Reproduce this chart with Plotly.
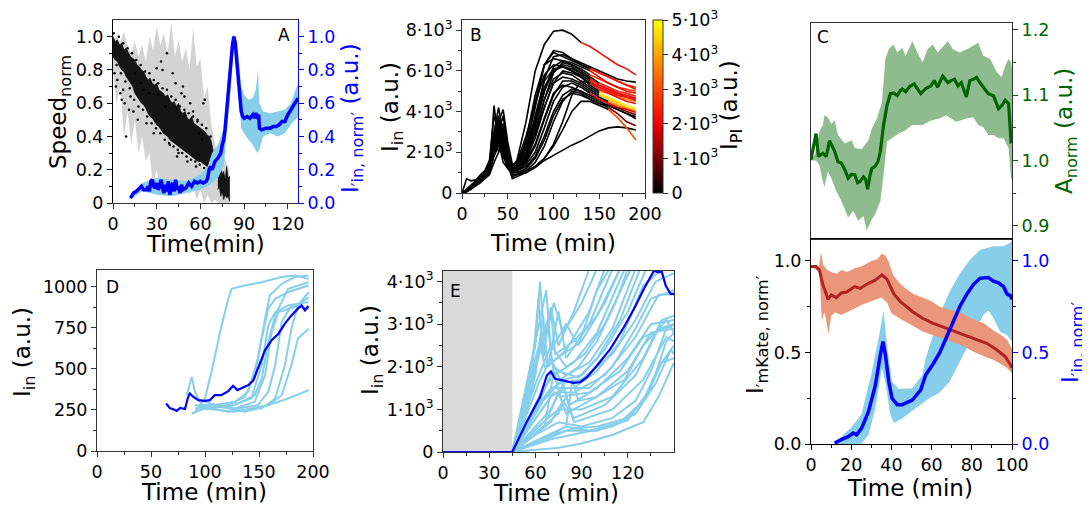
import plotly.graph_objects as go
from plotly.colors import sample_colorscale

FONT = "DejaVu Sans"
VW, VH = 1090, 508          # browser window
OFF = 8                     # default page margin of the html body
W, H = VW - OFF, VH - OFF

# ------------------------------------------------------------------ data
# Panel A : normalised speed (grey spread + black cloud) and I'in,norm (blue)
A_band_t = [0, 2.5, 5, 7.5, 10, 12.5, 15, 17.5, 20, 22.5, 25, 27.5, 30, 32.5, 35, 37.5, 40,
            42.5, 45, 47.5, 50, 52.5, 55, 57.5, 60, 62.5, 65, 67.5, 70, 72.5, 75, 77.5, 80]
A_band_hi = [0.98, 1.0, 0.97, 1.03, 0.95, 0.9, 0.97, 0.88, 0.95, 0.85, 1.0, 0.92, 1.06, 0.95, 1.02,
             0.9, 1.09, 0.88, 0.98, 0.85, 0.93, 0.8, 1.05, 0.82, 0.87, 0.63, 0.7, 0.47, 0.35,
             0.29, 0.3, 0.25, 0.2]
A_band_lo = [0.8, 0.6, 0.7, 0.4, 0.55, 0.35, 0.5, 0.3, 0.4, 0.25, 0.3, 0.1, 0.2, 0.05, 0.15, 0.1,
             0.05, 0.1, 0.15, 0.05, 0.1, 0.05, 0.1, 0.02, 0.08, 0.0, 0.05, 0.0, 0.02, 0.0, 0.0,
             0.0, 0.0]
A_cloud_t = [0, 1.5, 3, 4.5, 6, 7.5, 9, 10.5, 12, 13.5, 15, 16.5, 18, 19.5, 21, 22.5, 24, 25.5,
             27, 28.5, 30, 31.5, 33, 34.5, 36, 37.5, 39, 40.5, 42, 43.5, 45, 46.5, 48, 49.5, 51,
             52.5, 54, 55.5, 57, 58.5, 60, 61.5, 63, 64.5, 66, 67.5, 69]
A_cloud_hi = [1.0, 0.97, 0.98, 0.95, 0.96, 0.92, 0.93, 0.9, 0.88, 0.87, 0.86, 0.83, 0.82, 0.8,
              0.79, 0.76, 0.74, 0.75, 0.72, 0.71, 0.72, 0.68, 0.67, 0.66, 0.64, 0.65, 0.62, 0.6,
              0.61, 0.58, 0.6, 0.55, 0.54, 0.55, 0.51, 0.5, 0.52, 0.48, 0.47, 0.46, 0.45, 0.44,
              0.43, 0.41, 0.4, 0.37, 0.3]
A_cloud_lo = [0.88, 0.86, 0.85, 0.82, 0.8, 0.79, 0.76, 0.74, 0.72, 0.7, 0.66, 0.64, 0.62, 0.6,
              0.59, 0.57, 0.54, 0.52, 0.51, 0.49, 0.47, 0.46, 0.44, 0.42, 0.41, 0.4, 0.38, 0.37,
              0.36, 0.35, 0.34, 0.33, 0.32, 0.31, 0.3, 0.29, 0.28, 0.27, 0.26, 0.25, 0.25, 0.24,
              0.23, 0.22, 0.21, 0.2, 0.22]
A_cloud2_t = [72, 73, 74, 75, 76, 77, 78, 79, 80]
A_cloud2_hi = [0.2, 0.15, 0.23, 0.17, 0.19, 0.14, 0.22, 0.15, 0.16]
A_cloud2_lo = [0.08, 0.1, 0.04, 0.07, 0.02, 0.05, 0.03, 0.04, 0.01]
A_dots_t = [1, 2, 3, 5, 6, 7, 8, 9, 11, 12, 14, 15, 17, 19, 21, 23, 25, 28, 31, 33, 34, 36, 37,
            39, 41, 43, 45, 47, 49, 51, 53, 55, 57, 59, 61, 63, 65, 30, 44, 48, 58, 62,
            0.5, 2.5, 4, 5.5, 7, 8.5, 10, 11.5, 13, 14.5, 16, 17.5, 19, 20.5, 22, 23.5, 25, 26.5,
            28, 29.5, 31, 32.5, 34, 35.5, 37, 38.5, 40, 41.5, 43, 44.5, 46, 47.5, 49, 50.5, 52,
            53.5, 55, 56.5, 58, 59.5, 61, 62.5, 64, 65.5, 67]
A_dots_v = [0.78, 0.7, 0.74, 0.66, 0.62, 0.68, 0.6, 0.4, 0.56, 0.64, 0.55, 0.78, 0.5, 0.72, 0.68,
            0.48, 0.66, 0.42, 0.65, 0.85, 0.8, 0.58, 0.9, 0.35, 0.78, 0.72, 0.3, 0.66, 0.64, 0.25,
            0.6, 0.55, 0.22, 0.42, 0.38, 0.62, 0.18, 0.81, 0.28, 0.7, 0.5, 0.6,
            1.02, 0.83, 1.0, 0.78, 0.96, 0.73, 0.93, 0.69, 0.9, 0.62, 0.86, 0.58, 0.83, 0.56,
            0.79, 0.52, 0.78, 0.48, 0.74, 0.45, 0.72, 0.42, 0.69, 0.38, 0.68, 0.36, 0.64, 0.34,
            0.62, 0.32, 0.58, 0.3, 0.56, 0.28, 0.54, 0.26, 0.52, 0.25, 0.49, 0.23, 0.47, 0.21,
            0.45, 0.19, 0.4]
A_in_t = [12, 14, 16, 18, 19.5, 21, 23, 24, 25, 26, 27, 28, 29, 30, 31, 32, 33, 34, 35, 36, 37,
          38, 39, 40, 41, 42, 43, 44, 45, 46, 47, 48, 50, 52, 54, 56, 58, 60, 62, 64, 65, 66, 67,
          68, 70, 72, 74, 75, 76, 77, 78, 79, 80, 81, 82, 83, 84, 85, 86, 87, 88, 89, 90, 92, 94,
          96, 97, 98, 99, 100, 100.5, 102, 105, 108, 110, 112, 114, 116, 118, 120, 122, 124, 126,
          127]
A_in_v = [0.03, 0.06, 0.07, 0.09, 0.1, 0.08, 0.08, 0.1, 0.07, 0.13, 0.14, 0.1, 0.09, 0.12, 0.08,
          0.1, 0.14, 0.09, 0.06, 0.11, 0.07, 0.13, 0.05, 0.1, 0.12, 0.07, 0.14, 0.08, 0.1, 0.06,
          0.11, 0.08, 0.09, 0.12, 0.1, 0.13, 0.12, 0.13, 0.12, 0.13, 0.15, 0.2, 0.22, 0.2, 0.25,
          0.27, 0.3, 0.35, 0.38, 0.45, 0.55, 0.65, 0.78, 0.88, 0.95, 1.0, 0.96, 0.85, 0.75, 0.62,
          0.55, 0.52, 0.51, 0.52, 0.51, 0.53, 0.51, 0.54, 0.52, 0.53, 0.45, 0.44, 0.45, 0.45,
          0.46, 0.46, 0.47, 0.49, 0.49, 0.53, 0.56, 0.58, 0.61, 0.63]
A_in_hi_t = [12, 20, 30, 40, 50, 55, 60, 65, 68, 72, 76, 80, 83, 86, 88, 90, 93, 96, 98, 99.5,
             100.5, 103, 108, 113, 118, 122, 125, 127]
A_in_hi = [0.04, 0.12, 0.15, 0.14, 0.13, 0.15, 0.17, 0.22, 0.3, 0.35, 0.45, 0.85, 1.02, 0.9, 0.7,
           0.65, 0.62, 0.63, 0.68, 0.8, 0.6, 0.55, 0.54, 0.55, 0.56, 0.6, 0.68, 0.72]
A_in_lo_t = [12, 20, 30, 40, 50, 55, 60, 65, 68, 72, 76, 80, 83, 86, 88, 90, 93, 96, 99, 100.5,
             103, 108, 113, 118, 122, 125, 127]
A_in_lo = [0.02, 0.07, 0.05, 0.04, 0.06, 0.07, 0.08, 0.1, 0.12, 0.15, 0.22, 0.6, 0.95, 0.7, 0.45,
           0.42, 0.38, 0.35, 0.3, 0.32, 0.4, 0.42, 0.4, 0.42, 0.47, 0.5, 0.52]

# Panel B : single-cell I_in traces, coloured by I_PI after death
B_t = [0, 5, 10, 15, 20, 25, 30, 35, 40, 45, 50, 55, 60, 70, 80, 90, 100, 110, 120, 130, 140,
       150, 160, 170, 180, 190]
B_cells = [
    [0, 100, 300, 500, 700, 900, 1300, 2500, 3300, 2000, 1500, 1300, 1600, 3500, 6000, 7300, 7950, 8000, 7800, 7400, 7200, 6900, 6600, 6300, 6100, 5800],
    [0, 150, 350, 550, 800, 1000, 1500, 3000, 4200, 2800, 1600, 1100, 1300, 2500, 4500, 6300, 7000, 6900, 6600, 6400, 6200, 6000, 5800, 5600, 5500, 5450],
    [0, 100, 250, 450, 650, 900, 1200, 2000, 3500, 4100, 2500, 1400, 1200, 1800, 3500, 5600, 6700, 6800, 6600, 6300, 6100, 5900, 5700, 5500, 5300, 5200],
    [0, 50, 200, 400, 600, 800, 1100, 4300, 2500, 1500, 1200, 1000, 1300, 2600, 4800, 6300, 6600, 6500, 6300, 6100, 5800, 5600, 5400, 5200, 5100, 5000],
    [0, 200, 400, 600, 900, 1100, 1600, 3800, 3000, 1800, 1400, 1200, 1400, 2200, 3400, 5000, 6200, 6500, 6400, 6200, 6000, 5700, 5400, 5200, 5000, 4900],
    [0, 80, 250, 450, 700, 900, 1200, 2200, 3200, 3400, 1800, 1200, 1100, 1600, 2800, 4600, 5900, 6400, 6300, 6000, 5700, 5400, 5200, 5000, 4900, 4750],
    [0, 100, 300, 500, 700, 1000, 1500, 2800, 3800, 2500, 1500, 1300, 1500, 2800, 4400, 5800, 6300, 6200, 6000, 5800, 5500, 5200, 5000, 4800, 4700, 4600],
    [0, 100, 300, 500, 800, 1000, 1300, 2600, 3100, 2800, 1700, 1400, 1500, 2300, 3600, 5200, 6000, 6200, 6000, 5700, 5300, 5000, 4900, 4700, 4600, 4500],
    [0, 150, 300, 500, 700, 900, 1200, 3000, 2000, 2600, 1500, 1000, 1100, 1700, 2800, 4200, 5400, 6000, 5900, 5700, 5400, 5100, 4900, 4700, 4500, 4400],
    [0, 100, 250, 450, 650, 850, 1100, 2400, 3500, 2000, 1300, 1100, 1200, 1800, 3000, 4600, 5600, 5900, 5800, 5500, 5200, 4900, 4700, 4500, 4300, 4150],
    [0, 80, 200, 400, 600, 800, 1000, 2000, 3000, 3300, 1900, 1300, 1300, 1700, 2700, 4200, 5400, 5700, 5600, 5400, 5100, 4800, 4600, 4400, 4200, 4050],
    [0, 120, 300, 550, 750, 950, 1200, 2600, 2900, 1800, 1200, 1000, 1100, 1500, 2300, 3600, 4800, 5500, 5500, 5300, 5000, 4700, 4500, 4300, 4150, 4000],
    [0, 100, 250, 450, 700, 900, 1150, 2300, 3600, 2400, 1400, 1100, 1100, 1400, 2000, 3200, 4500, 5200, 5400, 5200, 4900, 4600, 4400, 4200, 4100, 3950],
    [0, 60, 200, 400, 600, 800, 1100, 2100, 2700, 3000, 1700, 1200, 1100, 1300, 1800, 2800, 4000, 4800, 5100, 5000, 4700, 4500, 4300, 4100, 3900, 3750],
    [0, 100, 250, 450, 650, 850, 1050, 1900, 2500, 2200, 1300, 900, 900, 1100, 1500, 2300, 3500, 4500, 5000, 4900, 4600, 4400, 4300, 4100, 3900, 3650],
    [0, 120, 300, 500, 700, 900, 1200, 2400, 3100, 2100, 1300, 1000, 1000, 1200, 1700, 2600, 3800, 4600, 4900, 4800, 4600, 4400, 4200, 3900, 3500, 3300],
    [0, 700, 600, 650, 700, 900, 1100, 1800, 2400, 2900, 1700, 800, 900, 1000, 1300, 1700, 2300, 3100, 4000, 4500, 4500, 4300, 4100, 3700, 3200, 2600],
    [0, 100, 200, 350, 500, 700, 900, 1500, 2000, 2600, 1400, 700, 800, 1000, 1250, 1600, 1850, 2100, 2350, 2550, 2800, 3050, 3200, 3250, 3200, 3100],
    [0, 100, 250, 450, 650, 850, 1100, 2200, 3000, 3800, 2200, 1300, 1300, 2200, 4200, 6300, 6900, 6700, 6500, 6300, 6100, 5900, 5700, 5500, 5300, 5100],
    [0, 100, 250, 400, 600, 800, 1000, 1900, 2700, 2300, 1500, 1100, 1200, 1600, 2400, 3700, 4900, 5300, 5200, 5000, 4800, 4600, 4400, 4200, 4000, 3850],
    [0, 80, 200, 380, 580, 780, 1000, 2100, 2900, 2500, 1500, 1200, 1300, 2000, 3800, 5500, 6100, 6200, 6100, 5900, 5600, 5300, 5100, 4900, 4700, 4550],
    [0, 90, 230, 420, 620, 820, 1050, 2300, 3300, 2600, 1600, 1250, 1350, 1900, 3200, 5000, 6000, 6300, 6200, 5900, 5600, 5300, 5100, 4900, 4800, 4650],
    [0, 100, 250, 450, 650, 850, 1100, 2200, 2800, 2300, 1400, 1000, 1000, 1100, 1300, 1700, 2400, 3500, 4800, 5500, 5400, 5200, 5000, 4800, 4700, 4600],
]
# index in B_t from which the cell is dead (None = alive), and its PI intensity
B_death_idx = [19, None, 20, 20, 20, 21, 20, 21, 20, 21, 21, 22, 20, None, None, 22, 22, None, 20, 23, 20, 21, 21]
B_pi = [2200, 0, 2200, 2600, 2000, 2400, 2000, 3700, 2300, 4700, 4300, 3500, 2100, 0, 0, 1000, 3000, 0, 2300, 900, 2500, 2000, 2200]
B_cbar_vals = [0, 1000, 2000, 3000, 4000, 5000]
B_cbar_text = ["0", "1·10<sup>3</sup>", "2·10<sup>3</sup>", "3·10<sup>3</sup>", "4·10<sup>3</sup>", "5·10<sup>3</sup>"]

# Panel C : A_norm
C_t = [0, 2.5, 3.7, 5.9, 7.6, 9.2, 11.8, 13.4, 15.1, 16.8, 18.5, 20.2, 21.8, 23.2, 24.4, 26.1,
       27.2, 28.2, 29.4, 30.3, 31.9, 33.3, 34.5, 36.1, 37.8, 39.5, 41.2, 42.9, 44.5, 45.4, 47.1,
       49.1, 51.3, 52.9, 54.6, 57.1, 59.7, 61.3, 63.0, 65.5, 68.1, 69.7, 71.4, 73.1, 74.8, 77.3,
       79.0, 80.7, 82.4, 84.0, 85.7, 88.2, 90.8, 93.3, 95.0, 96.6, 98.3, 99.5, 100]
C_v = [1.001, 1.041, 1.006, 1.011, 1.006, 1.030, 1.014, 0.998, 0.996, 0.986, 0.973, 0.979, 0.978,
       0.966, 0.968, 0.975, 0.971, 0.956, 0.978, 0.988, 0.991, 0.998, 1.014, 1.054, 1.084, 1.102,
       1.103, 1.099, 1.107, 1.109, 1.105, 1.113, 1.117, 1.109, 1.102, 1.110, 1.114, 1.122, 1.112,
       1.129, 1.119, 1.122, 1.124, 1.114, 1.119, 1.097, 1.122, 1.124, 1.127, 1.119, 1.112, 1.102,
       1.099, 1.079, 1.084, 1.092, 1.087, 1.029, 1.03]
C_hi_t = [0, 2, 4.2, 5.9, 6.7, 8.4, 10.1, 11.8, 13.4, 16.8, 20.2, 21.8, 25.2, 28.6, 30.3, 32.8,
          35.3, 37.0, 38.7, 41.0, 42.9, 45.4, 47.1, 50.4, 52.9, 55.5, 58.0, 60.5, 63.0, 68.1, 70.6,
          74.0, 79.0, 83.2, 85.7, 89.1, 92.4, 94.9, 96.6, 98.3, 99.5, 100]
C_hi = [1.0, 1.01, 1.044, 1.054, 1.069, 1.066, 1.056, 1.061, 1.039, 1.026, 1.031, 1.019, 1.017,
        1.031, 1.049, 1.064, 1.089, 1.155, 1.17, 1.177, 1.165, 1.172, 1.16, 1.182, 1.165, 1.15,
        1.17, 1.177, 1.165, 1.182, 1.17, 1.165, 1.172, 1.18, 1.16, 1.155, 1.135, 1.127, 1.145,
        1.155, 1.15, 1.14]
C_lo_t = [0, 2.5, 4.2, 5.9, 6.7, 8.4, 10.1, 12.6, 15.1, 18.5, 21.0, 23.5, 26.1, 27.7, 30.3, 31.9,
          34.5, 36.1, 37.8, 40.3, 43.7, 47.0, 50.4, 55.5, 59.7, 63.9, 67.2, 72.3, 77.3, 80.7, 83.2,
          85.7, 88.2, 90.8, 93.3, 95.8, 98.3, 99.5, 100]
C_lo = [1.0, 1.0, 0.993, 0.968, 0.96, 0.983, 0.973, 0.953, 0.938, 0.913, 0.923, 0.908, 0.915,
        0.893, 0.91, 0.918, 0.938, 0.978, 1.029, 1.034, 1.041, 1.046, 1.054, 1.054, 1.061, 1.064,
        1.069, 1.059, 1.064, 1.066, 1.054, 1.051, 1.039, 1.039, 1.034, 1.034, 1.019, 0.973, 0.97]

# Panel F (bottom right) : I'mKate,norm (red) and I'in,norm (blue)
F_mk_t = [0, 2.5, 4.2, 5.9, 7.6, 8.4, 10.1, 12.6, 15.1, 17.6, 21.8, 24.4, 28.6, 31.9, 35.3, 37.8,
          41.2, 44.5, 50.4, 55.5, 60.5, 67.2, 74, 80.7, 87.4, 92.4, 96.6, 99.2, 100]
F_mk_v = [0.97, 0.97, 0.95, 0.87, 0.82, 0.79, 0.815, 0.8, 0.825, 0.83, 0.86, 0.85, 0.878, 0.895,
          0.924, 0.9, 0.82, 0.778, 0.724, 0.687, 0.66, 0.633, 0.605, 0.578, 0.55, 0.515, 0.478,
          0.433, 0.415]
F_mk_hi_t = [0, 4, 5, 6, 8, 10, 13, 15, 18, 21.8, 25, 30, 33, 35.3, 37, 38.5, 41, 44, 47, 51,
             55.5, 60, 64, 70, 75, 80.7, 86, 90.7, 94, 97.5, 100]
F_mk_hi = [0.97, 0.97, 1.05, 0.98, 0.95, 0.94, 0.93, 0.95, 0.94, 0.96, 0.97, 1.0, 1.01, 1.04,
           1.03, 1.0, 0.92, 0.88, 0.85, 0.82, 0.8, 0.78, 0.75, 0.73, 0.715, 0.68, 0.66, 0.62,
           0.6, 0.57, 0.52]
F_mk_lo_t = [0, 4.2, 5.4, 6.5, 7.5, 8.7, 10, 12, 15, 18, 21.8, 25, 30, 35, 38, 40, 45, 50, 55.5,
             60, 64, 70, 75, 80.7, 86, 90.7, 94, 97.5, 100]
F_mk_lo = [0.97, 0.94, 0.67, 0.72, 0.68, 0.6, 0.7, 0.72, 0.705, 0.72, 0.74, 0.76, 0.78, 0.8,
           0.77, 0.715, 0.68, 0.65, 0.615, 0.6, 0.58, 0.56, 0.54, 0.505, 0.48, 0.46, 0.44,
           0.415, 0.387]
F_in_t = [11.8, 13.4, 15, 18.5, 21, 22.7, 25.2, 28.6, 32, 34.5, 35.8, 37, 38.7, 40.3, 42.9, 45.4,
          50.4, 54.6, 57.1, 60.5, 63.9, 67.2, 70.6, 74, 77.3, 80.7, 84, 88.2, 90.7, 93.3, 95.8,
          97.5, 99.2, 100]
F_in_v = [0.005, 0.015, 0.024, 0.04, 0.06, 0.05, 0.087, 0.178, 0.32, 0.487, 0.56, 0.487, 0.34,
          0.25, 0.215, 0.215, 0.24, 0.296, 0.378, 0.433, 0.496, 0.578, 0.67, 0.75, 0.815, 0.87,
          0.905, 0.91, 0.89, 0.88, 0.86, 0.82, 0.81, 0.79]
F_in_hi_t = [11.8, 20, 25, 30, 34, 36.1, 37.8, 40.3, 43.7, 50.4, 55.5, 57.1, 60.5, 63.9, 68.9,
             74, 79, 84, 90.7, 95.8, 99, 100]
F_in_hi = [0.005, 0.09, 0.16, 0.38, 0.6, 0.73, 0.54, 0.34, 0.3, 0.305, 0.378, 0.47, 0.587,
           0.705, 0.83, 0.93, 1.005, 1.06, 1.08, 1.08, 1.1, 1.11]
F_in_lo_t = [11.8, 22, 25, 28.6, 32, 35.3, 37, 39.5, 41.2, 45.4, 52, 58.8, 63.9, 68.9, 75.6,
             82.4, 85.7, 88.2, 90.7, 94, 97.5, 100]
F_in_lo = [0.0, 0.0, 0.0, 0.05, 0.196, 0.415, 0.34, 0.16, 0.115, 0.14, 0.196, 0.25, 0.28, 0.34,
           0.487, 0.63, 0.705, 0.73, 0.69, 0.615, 0.596, 0.56]

# Panel D : single cells (light blue) and mean (blue)
D_mean_t = [64, 67.6, 70, 73.8, 77, 81.5, 84, 86, 89, 93.8, 100, 104.5, 109, 115, 121.6, 126, 130,
            133.6, 140, 144.8, 149, 155.5, 161.7, 168, 174, 180, 186, 189.5, 192.6, 195.7]
D_mean_v = [289, 259, 255, 244, 262, 255, 320, 350, 330, 309, 305, 309, 339, 339, 364, 396, 370,
            380, 400, 430, 501, 612, 673, 713, 774, 824, 865, 885, 855, 881]
D_cells_t = [
    [90.7, 100, 106, 115.4, 121.6, 124.7, 137, 152.5, 171, 183, 196],
    [83, 87.7, 90.7, 97, 109, 127.8, 140, 149, 155.6, 160, 171, 183, 196],
    [87.7, 100, 121.6, 137, 146, 152.5, 158.6, 165, 177, 196],
    [90.7, 121.6, 143, 152.5, 158.6, 165, 177, 196],
    [93.8, 127.8, 146, 155.6, 161.7, 168, 183, 196],
    [90.7, 121.6, 152.5, 165, 174, 180, 186, 196],
    [97, 127.8, 158.6, 171, 180, 186, 196],
    [100, 121.6, 137, 158.6, 177, 196],
    [93.8, 127.8, 146, 152.5, 158.6, 165, 177, 196],
    [100, 130.9, 149, 158.6, 165, 171, 180, 196],
]
D_cells_v = [
    [238, 319, 481, 764, 925, 986, 1006, 1026, 1057, 1067, 1046],
    [339, 450, 360, 279, 279, 299, 360, 562, 804, 945, 1016, 1057, 1067],
    [228, 259, 279, 329, 460, 683, 865, 925, 966, 1006],
    [259, 269, 319, 521, 764, 844, 885, 905],
    [279, 259, 299, 460, 723, 844, 875, 935],
    [279, 238, 259, 319, 521, 743, 885, 966],
    [259, 238, 279, 339, 521, 683, 743],
    [299, 259, 238, 279, 319, 370],
    [259, 279, 339, 440, 662, 824, 986, 1026],
    [279, 259, 279, 360, 521, 784, 885, 865],
]

# Panel E : single cells (light blue) and mean (blue); shaded pre-window
E_shade = [0, 45]
E_mean_t = [0, 45, 54.3, 63, 67.4, 70, 72.8, 78.3, 84.8, 89, 93.5, 100, 108.7, 117.4, 124, 130.4,
            134.8, 137, 140, 142, 144.6, 147.8, 150]
E_mean_v = [0, 0, 703, 1289, 1797, 1890, 1719, 1680, 1625, 1640, 1758, 2031, 2422, 2930, 3359,
            3828, 4140, 4258, 4219, 4240, 3906, 3711, 3711]
E_cells_t = [
    [45, 60, 63, 66, 72, 78, 90, 100],
    [45, 58, 62, 65, 70, 75, 85, 95],
    [45, 62, 67, 70, 80, 88, 100, 108],
    [45, 60, 65, 68, 75, 80, 95, 110],
    [45, 65, 70, 73, 85, 100, 115],
    [45, 55, 63, 66, 78, 90, 105, 115],
    [45, 62, 68, 72, 85, 100, 118],
    [45, 60, 70, 80, 92, 105, 122],
    [45, 65, 75, 88, 100, 115, 128],
    [45, 68, 78, 90, 105, 120, 132],
    [45, 65, 75, 90, 110, 125, 138, 150],
    [45, 70, 80, 95, 110, 125, 135, 150],
    [45, 62, 72, 85, 105, 125, 140, 150],
    [45, 70, 78, 82, 100, 120, 135, 150],
    [45, 68, 75, 80, 100, 120, 135, 150],
    [45, 70, 78, 85, 105, 125, 140, 150],
    [45, 65, 75, 90, 110, 130, 142, 150],
    [45, 75, 80, 85, 110, 130, 145, 150],
    [45, 60, 75, 90, 110, 125, 135, 145, 150],
    [45, 65, 80, 95, 115, 130, 140, 150],
    [45, 70, 85, 100, 120, 132, 142, 150],
    [45, 60, 80, 100, 120, 135, 145, 150],
    [45, 70, 90, 110, 125, 138, 148, 150],
    [45, 75, 90, 110, 130, 140, 150],
    [45, 80, 84, 88, 100, 118, 130, 145, 150],
    [45, 66, 72, 76, 95, 115, 130, 150],
    [45, 58, 64, 68, 80, 95, 105],
    [45, 62, 70, 76, 88, 100, 112, 120],
    [45, 63, 72, 80, 95, 110, 125],
    [45, 60, 70, 85, 100, 115, 130, 142],
]
E_cells_v = [
    [0, 2500, 4000, 2600, 3500, 2800, 3500, 4300],
    [0, 2000, 3600, 2200, 3400, 2500, 3300, 4300],
    [0, 3000, 3800, 2400, 3000, 2500, 3800, 4300],
    [0, 1800, 3200, 2000, 3300, 2200, 3000, 4300],
    [0, 2800, 3300, 2300, 2600, 3200, 4300],
    [0, 1500, 2600, 2000, 2300, 2600, 3500, 4300],
    [0, 2200, 3000, 1800, 2100, 2800, 4300],
    [0, 1600, 2500, 2000, 2300, 3000, 4300],
    [0, 1500, 1900, 1750, 2200, 3100, 4300],
    [0, 1400, 1700, 1800, 2400, 3300, 4300],
    [0, 1200, 1600, 1700, 2300, 3100, 4000, 4200],
    [0, 1300, 1500, 1500, 2000, 2900, 3600, 3800],
    [0, 900, 1400, 1400, 1800, 2700, 3700, 3700],
    [0, 1000, 1600, 1100, 1500, 2200, 3000, 3100],
    [0, 800, 1400, 900, 1300, 1900, 2800, 2900],
    [0, 700, 1200, 800, 1100, 1800, 2900, 3000],
    [0, 700, 1000, 1000, 1300, 2200, 3100, 3200],
    [0, 900, 1300, 700, 1000, 1700, 2700, 2600],
    [0, 400, 700, 600, 800, 1200, 1900, 2900, 3000],
    [0, 300, 600, 500, 700, 1200, 2000, 2500],
    [0, 400, 550, 600, 800, 1300, 2100, 2200],
    [0, 200, 500, 500, 750, 1500, 2600, 2800],
    [0, 300, 450, 600, 900, 1600, 2400, 2300],
    [0, 100, 200, 400, 700, 1300, 2100],
    [0, 600, 1700, 1200, 1300, 1700, 2500, 3100, 2800],
    [0, 600, 1900, 1300, 1400, 1900, 2700, 3000],
    [0, 1500, 2800, 2000, 2400, 3300, 4300],
    [0, 1600, 2200, 1700, 2000, 2600, 3500, 4300],
    [0, 1200, 2000, 1800, 2100, 2900, 4300],
    [0, 1000, 1500, 1500, 1900, 2600, 3900, 4300],
]

# ------------------------------------------------------------------ style
BLUE = "#0000ff"
SKY = "#87ceeb"
GREEN = "#006400"
GREEN_BAND = "#8fbc8f"
RED = "#b22222"
RED_BAND = "#e9967a"
HOT = [[0.0, "#000000"], [0.2, "#7a0000"], [0.4, "#f00000"], [0.6, "#ff4a00"],
       [0.8, "#ffa500"], [1.0, "#ffff00"]]
SPINE = "#333333"
TICK_FS = 17.5
TITLE_FS = 23


def fx(p):
    return (p - OFF) / W


def fy(p):
    return 1 - (p - OFF) / H


def band_poly(t_hi, hi, t_lo, lo):
    return list(t_hi) + list(reversed(t_lo)), list(hi) + list(reversed(lo))


def axis(color="black", line=SPINE, **kw):
    d = dict(showline=True, linecolor=line, linewidth=1, ticks="outside", ticklen=5,
             tickwidth=1, tickcolor=line, showgrid=False, zeroline=False, automargin=False,
             tickfont=dict(size=TICK_FS, family=FONT, color=color), fixedrange=True,
             tickmode="array")
    d.update(kw)
    return d


def minor(vals, color=SPINE):
    return dict(tickmode="array", tickvals=vals, ticks="outside", ticklen=3, tickwidth=1,
                tickcolor=color, showgrid=False)


fig = go.Figure()

# ---------------- Panel A
x, y = band_poly(A_band_t, A_band_hi, A_band_t, A_band_lo)
fig.add_trace(go.Scatter(x=x, y=y, fill="toself", fillcolor="#d3d3d3", line=dict(width=0),
                         mode="lines", xaxis="x", yaxis="y", hoverinfo="skip"))
x, y = band_poly(A_cloud_t, A_cloud_hi, A_cloud_t, A_cloud_lo)
fig.add_trace(go.Scatter(x=x, y=y, fill="toself", fillcolor="rgba(0,0,0,0.9)",
                         line=dict(width=0.6, color="#000"),
                         mode="lines", xaxis="x", yaxis="y", hoverinfo="skip"))
x, y = band_poly(A_cloud2_t, A_cloud2_hi, A_cloud2_t, A_cloud2_lo)
fig.add_trace(go.Scatter(x=x, y=y, fill="toself", fillcolor="rgba(0,0,0,0.9)",
                         line=dict(width=0.6, color="#000"),
                         mode="lines", xaxis="x", yaxis="y", hoverinfo="skip"))
fig.add_trace(go.Scatter(x=A_dots_t, y=A_dots_v, mode="markers",
                         marker=dict(size=2.5, color="black"), xaxis="x", yaxis="y"))
x, y = band_poly(A_in_hi_t, A_in_hi, A_in_lo_t, A_in_lo)
fig.add_trace(go.Scatter(x=x, y=y, fill="toself", fillcolor=SKY, line=dict(width=0),
                         mode="lines", xaxis="x", yaxis="y2", hoverinfo="skip"))
fig.add_trace(go.Scatter(x=A_in_t, y=A_in_v, mode="lines", line=dict(color=BLUE, width=3.5),
                         xaxis="x", yaxis="y2"))

# ---------------- Panel B
for i, cell in enumerate(B_cells):
    d = B_death_idx[i]
    end = len(B_t) if d is None else d + 1
    fig.add_trace(go.Scatter(x=B_t[:end], y=cell[:end], mode="lines",
                             line=dict(color="black", width=1.6), xaxis="x2", yaxis="y3"))
for i, cell in enumerate(B_cells):
    d = B_death_idx[i]
    if d is None:
        continue
    col = sample_colorscale(HOT, [B_pi[i] / 5000])[0]
    fig.add_trace(go.Scatter(x=B_t[d:], y=cell[d:], mode="lines",
                             line=dict(color=col, width=1.6), xaxis="x2", yaxis="y3"))
fig.add_trace(go.Scatter(
    x=[-1000], y=[-1000], mode="markers", xaxis="x2", yaxis="y3", hoverinfo="skip",
    marker=dict(size=1, color=[0], cmin=0, cmax=5010, colorscale=HOT, showscale=True,
                colorbar=dict(thickness=10, thicknessmode="pixels", len=173 / H, lenmode="fraction",
                              x=fx(653), xanchor="left", y=fy(106.5), yanchor="middle",
                              xpad=0, ypad=0, outlinewidth=1, outlinecolor=SPINE,
                              tickmode="array", tickvals=B_cbar_vals, ticktext=B_cbar_text,
                              ticks="outside", ticklen=5, tickcolor=SPINE,
                              tickfont=dict(size=TICK_FS, family=FONT, color="black")))))

# ---------------- Panel C
x, y = band_poly(C_hi_t, C_hi, C_lo_t, C_lo)
fig.add_trace(go.Scatter(x=x, y=y, fill="toself", fillcolor=GREEN_BAND, line=dict(width=0),
                         mode="lines", xaxis="x3", yaxis="y4", hoverinfo="skip"))
fig.add_trace(go.Scatter(x=C_t, y=C_v, mode="lines", line=dict(color=GREEN, width=3.2),
                         xaxis="x3", yaxis="y4"))

# ---------------- Panel F (both scales identical -> draw on y6 to keep layering)
fig.add_trace(go.Scatter(x=[], y=[], mode="lines", xaxis="x4", yaxis="y5"))
x, y = band_poly(F_in_hi_t, F_in_hi, F_in_lo_t, F_in_lo)
fig.add_trace(go.Scatter(x=x, y=y, fill="toself", fillcolor=SKY, line=dict(width=0),
                         mode="lines", xaxis="x4", yaxis="y6", hoverinfo="skip"))
x, y = band_poly(F_mk_hi_t, F_mk_hi, F_mk_lo_t, F_mk_lo)
fig.add_trace(go.Scatter(x=x, y=y, fill="toself", fillcolor=RED_BAND, line=dict(width=0),
                         mode="lines", xaxis="x4", yaxis="y6", hoverinfo="skip"))
fig.add_trace(go.Scatter(x=F_mk_t, y=F_mk_v, mode="lines", line=dict(color=RED, width=3),
                         xaxis="x4", yaxis="y6"))
fig.add_trace(go.Scatter(x=F_in_t, y=F_in_v, mode="lines", line=dict(color=BLUE, width=3.5),
                         xaxis="x4", yaxis="y6"))

# ---------------- Panel D
for tt, vv in zip(D_cells_t, D_cells_v):
    fig.add_trace(go.Scatter(x=tt, y=vv, mode="lines", line=dict(color=SKY, width=2),
                             xaxis="x5", yaxis="y7"))
fig.add_trace(go.Scatter(x=D_mean_t, y=D_mean_v, mode="lines", line=dict(color=BLUE, width=2.2),
                         xaxis="x5", yaxis="y7"))

# ---------------- Panel E
for tt, vv in zip(E_cells_t, E_cells_v):
    fig.add_trace(go.Scatter(x=tt, y=vv, mode="lines", line=dict(color=SKY, width=2),
                             xaxis="x6", yaxis="y8"))
fig.add_trace(go.Scatter(x=E_mean_t, y=E_mean_v, mode="lines", line=dict(color=BLUE, width=2.2),
                         xaxis="x6", yaxis="y8"))

fig.add_shape(type="rect", xref="x6", yref="y8 domain", x0=E_shade[0], x1=E_shade[1], y0=0, y1=1,
              fillcolor="#d9d9d9", line=dict(width=0), layer="below")

sup = lambda k: f"{k}·10<sup>3</sup>" if k else "0"

fig.update_layout(
    width=W, height=H, autosize=False, margin=dict(l=0, r=0, t=0, b=0, pad=0), showlegend=False,
    paper_bgcolor="white", plot_bgcolor="white",
    font=dict(family=FONT, size=TICK_FS, color="black"),
    # A
    xaxis=axis(domain=[fx(113), fx(298)], range=[0, 127], anchor="y", mirror=True,
               tickvals=[0, 30, 60, 90, 120], minor=minor([15, 45, 75, 105])),
    yaxis=axis(domain=[fy(203), fy(20)], range=[0, 1.1], anchor="x", line="#000",
               tickvals=[0, 0.2, 0.4, 0.6, 0.8, 1.0],
               ticktext=["0", "0.2", "0.4", "0.6", "0.8", "1.0"],
               minor=minor([0.1, 0.3, 0.5, 0.7, 0.9], "#000")),
    yaxis2=axis(color=BLUE, line=BLUE, overlaying="y", side="right", anchor="x", range=[0, 1.1],
                tickvals=[0, 0.2, 0.4, 0.6, 0.8, 1.0],
                ticktext=["0.0", "0.2", "0.4", "0.6", "0.8", "1.0"],
                minor=minor([0.1, 0.3, 0.5, 0.7, 0.9], BLUE)),
    # B
    xaxis2=axis(domain=[fx(462), fx(645)], range=[0, 200], anchor="y3", mirror=True,
                tickvals=[0, 50, 100, 150, 200], minor=minor([25, 75, 125, 175])),
    yaxis3=axis(domain=[fy(193), fy(20)], range=[0, 8500], anchor="x2", mirror=True,
                tickvals=[0, 2000, 4000, 6000, 8000], ticktext=[sup(k) for k in (0, 2, 4, 6, 8)],
                minor=minor([1000, 3000, 5000, 7000])),
    # C
    xaxis3=axis(domain=[fx(811), fx(1012)], range=[0, 100], anchor="y4", mirror=True,
                showticklabels=False, ticks=""),
    yaxis4=axis(color=GREEN, domain=[fy(239), fy(23)], range=[0.88, 1.21], anchor="x3",
                side="right", mirror=True, tickcolor=GREEN,
                tickvals=[0.9, 1.0, 1.1, 1.2], ticktext=["0.9", "1.0", "1.1", "1.2"],
                minor=minor([0.95, 1.05, 1.15], GREEN)),
    # F
    xaxis4=axis(domain=[fx(811), fx(1012)], range=[0, 100], anchor="y5", mirror=True, line="#000",
                tickvals=[0, 20, 40, 60, 80, 100],
                minor=minor([10, 30, 50, 70, 90], "#000")),
    yaxis5=axis(domain=[fy(444), fy(239)], range=[0, 1.12], anchor="x4", line="#000",
                tickvals=[0, 0.5, 1.0], ticktext=["0.0", "0.5", "1.0"],
                minor=minor([0.25, 0.75], "#000")),
    yaxis6=axis(color=BLUE, overlaying="y5", side="right", anchor="x4", range=[0, 1.12],
                line="#000", tickcolor=BLUE,
                tickvals=[0, 0.5, 1.0], ticktext=["0.0", "0.5", "1.0"],
                minor=minor([0.25, 0.75], BLUE)),
    # D
    xaxis5=axis(domain=[fx(97), fx(313)], range=[0, 200], anchor="y7", mirror=True,
                tickvals=[0, 50, 100, 150, 200], minor=minor([25, 75, 125, 175])),
    yaxis7=axis(domain=[fy(451), fy(270)], range=[0, 1100], anchor="x5", mirror=True,
                tickvals=[0, 250, 500, 750, 1000], minor=minor([125, 375, 625, 875])),
    # E
    xaxis6=axis(domain=[fx(443), fx(674)], range=[0, 150], anchor="y8", mirror=True,
                tickvals=[0, 30, 60, 90, 120], minor=minor([15, 45, 75, 105, 135])),
    yaxis8=axis(domain=[fy(452), fy(271)], range=[0, 4250], anchor="x6", mirror=True,
                tickvals=[0, 1000, 2000, 3000, 4000], ticktext=[sup(k) for k in (0, 1, 2, 3, 4)],
                minor=minor([500, 1500, 2500, 3500])),
)


def note(text, px, py, size=TITLE_FS, color="black", angle=0):
    fig.add_annotation(text=text, x=fx(px), y=fy(py), xref="paper", yref="paper",
                       showarrow=False, textangle=angle, xanchor="center", yanchor="middle",
                       font=dict(family=FONT, size=size, color=color))


# axis titles
note("Speed<sub>norm</sub>", 60, 112, angle=-90)
note("Time(min)", 205, 244)
note("I<sub>′in, norm′</sub> (a.u.)", 352, 118, color=BLUE, angle=-90)
note("I<sub>in</sub> (a.u.)", 392, 107, angle=-90)
note("Time (min)", 553, 243)
note("I<sub>PI</sub> (a.u.)", 731, 105, angle=-90)
note("A<sub>norm</sub> (a.u.)", 1066, 131, color=GREEN, angle=-90)
note("I<sub>′mKate, norm′</sub>", 757, 335, angle=-90)
note("I<sub>′in, norm′</sub>", 1072, 343, color=BLUE, angle=-90)
note("Time (min)", 910, 488)
note("I<sub>in</sub> (a.u.)", 24, 352, angle=-90)
note("Time (min)", 204, 492)
note("I<sub>in</sub> (a.u.)", 372, 350, angle=-90)
note("Time (min)", 556, 493)
# panel letters
note("A", 284, 35, size=17)
note("B", 476, 35, size=17)
note("C", 823, 37, size=17)
note("D", 112, 287, size=17)
note("E", 455, 291, size=17)

fig.write_html("out.html")
